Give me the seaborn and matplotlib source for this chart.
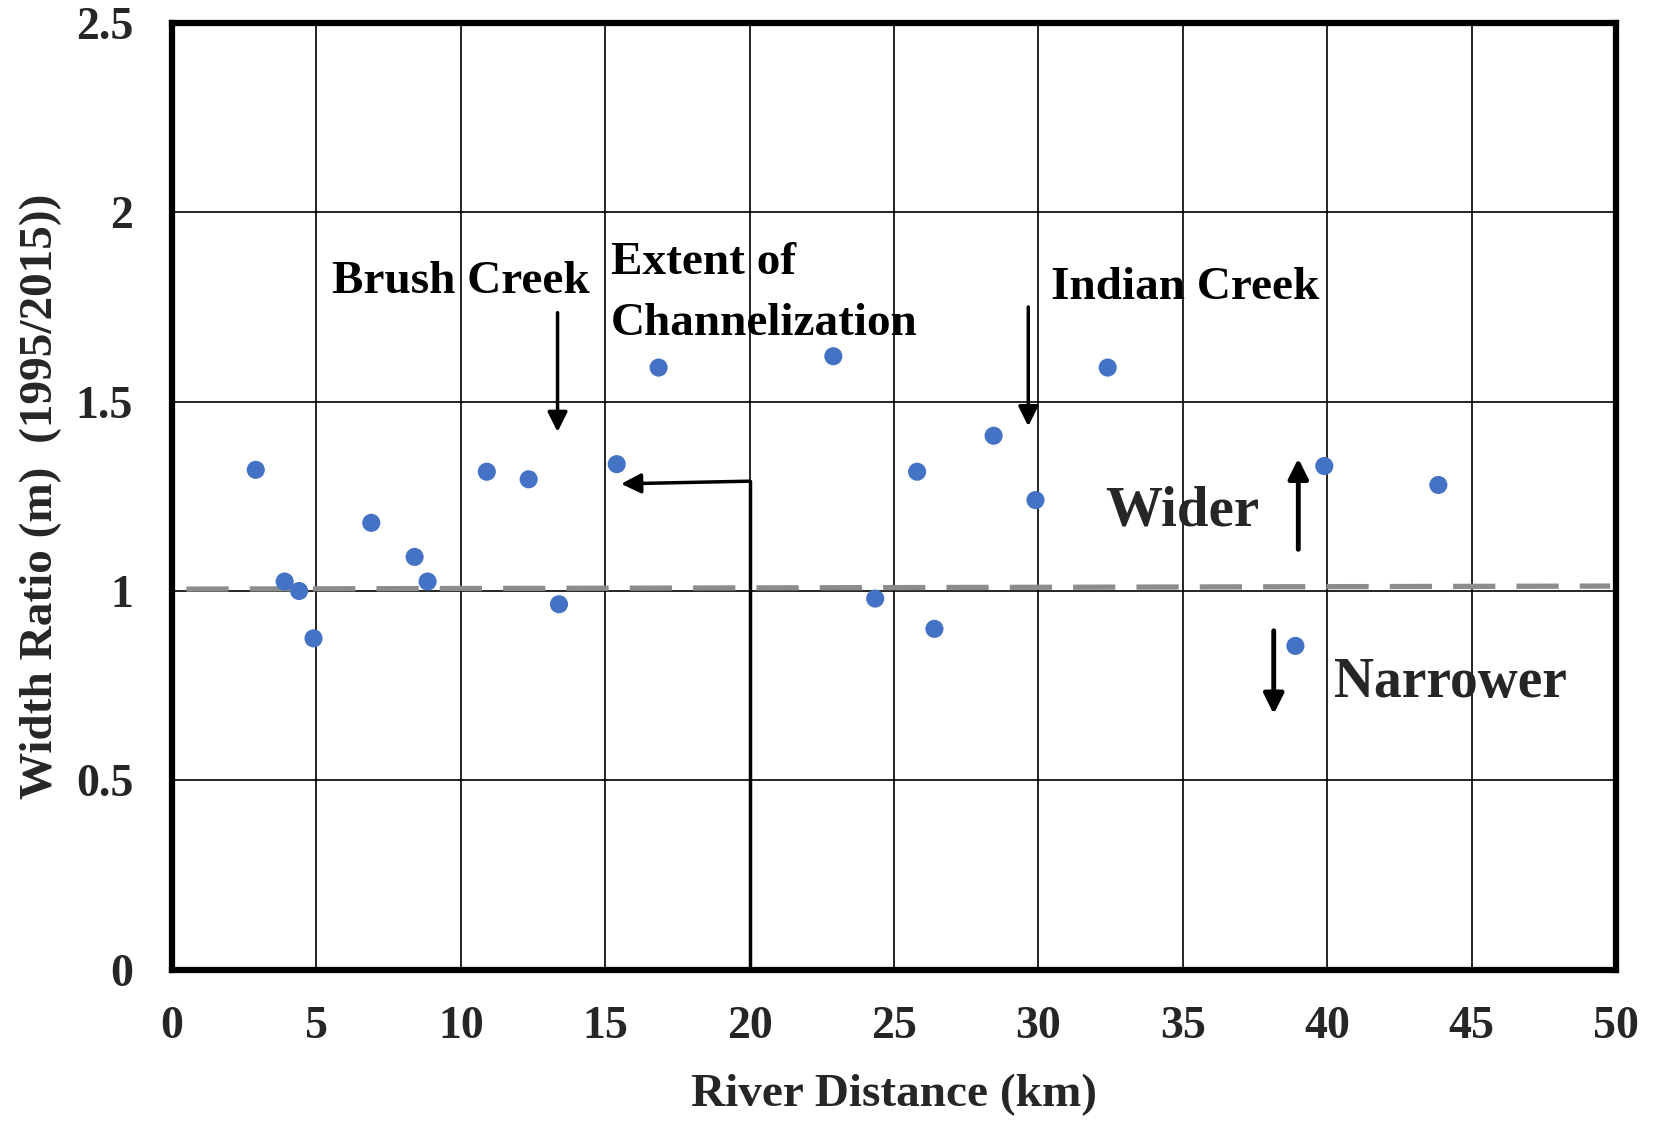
import matplotlib
matplotlib.use("Agg")
import matplotlib.pyplot as plt
import seaborn as sns
import pandas as pd

# River distance (km) and width ratio (1995/2015)
distance_km = [2.9, 3.9, 4.4, 4.9, 6.9, 8.4, 8.85, 10.9, 12.35, 13.4, 15.4, 16.85,
               22.9, 24.35, 25.8, 26.4, 28.45, 29.9, 32.4, 38.9, 39.9, 43.85]
width_ratio = [1.32, 1.025, 1.0, 0.875, 1.18, 1.09, 1.025, 1.315, 1.295, 0.965, 1.335, 1.59,
               1.62, 0.98, 1.315, 0.90, 1.41, 1.24, 1.59, 0.855, 1.33, 1.28]

# Reference (no change) trend line
trend_x = [0.5, 49.8]
trend_y = [1.005, 1.013]

x_ticks = [0, 5, 10, 15, 20, 25, 30, 35, 40, 45, 50]
y_ticks = [0, 0.5, 1, 1.5, 2, 2.5]
y_tick_labels = ["0", "0.5", "1", "1.5", "2", "2.5"]

df = pd.DataFrame({"distance": distance_km, "ratio": width_ratio})

sns.set_style("white")
plt.rcParams["font.family"] = ["Liberation Serif", "DejaVu Serif"]
plt.rcParams["font.weight"] = "bold"

fig = plt.figure(figsize=(16.54, 11.21), dpi=100)
ax = fig.add_axes([0.104, 0.135, 0.873, 0.8445])

ax.set_xlim(0, 50)
ax.set_ylim(0, 2.5)
ax.set_xticks(x_ticks)
ax.set_yticks(y_ticks)
ax.set_xticklabels([str(t) for t in x_ticks], fontsize=33, fontweight="bold")
ax.set_yticklabels(y_tick_labels, fontsize=33, fontweight="bold")
ax.tick_params(axis="x", length=0, pad=26)
ax.tick_params(axis="y", length=0, pad=28)
ax.grid(True, color="black", linewidth=1.2)
ax.set_axisbelow(True)
for s in ax.spines.values():
    s.set_visible(True)
    s.set_color("black")
    s.set_linewidth(4.5)

# dashed reference line
sns.lineplot(x=trend_x, y=trend_y, ax=ax, color="#8c8c8c", linewidth=3.8,
             dashes=False, linestyle=(0, (8, 4)), zorder=2)

sns.scatterplot(data=df, x="distance", y="ratio", ax=ax, color="#4472C4",
                s=170, edgecolor="none", zorder=5)

ax.set_xlabel("River Distance (km)", fontsize=34, fontweight="bold", labelpad=19)
ax.set_ylabel("Width Ratio (m)  (1995/2015))", fontsize=34, fontweight="bold", labelpad=10)

txt = dict(fontsize=34, fontweight="bold", color="black", va="center", ha="left")
ax.text(5.55, 1.816, "Brush Creek", **txt)
ax.text(15.2, 1.866, "Extent of", **txt)
ax.text(15.2, 1.706, "Channelization", **txt)
ax.text(30.45, 1.80, "Indian Creek", **txt)
ax.text(32.3, 1.209, "Wider", fontsize=41, fontweight="bold", va="center", ha="left")
ax.text(40.25, 0.756, "Narrower", fontsize=40, fontweight="bold", va="center", ha="left")

arrow = dict(arrowstyle="-|>", color="black", lw=2.5, mutation_scale=30, shrinkA=0, shrinkB=0)
# Brush Creek
ax.annotate("", xy=(13.35, 1.42), xytext=(13.35, 1.735), arrowprops=arrow)
# Indian Creek
ax.annotate("", xy=(29.65, 1.435), xytext=(29.65, 1.75), arrowprops=arrow)
# Wider / Narrower
ax.annotate("", xy=(39.0, 1.35), xytext=(39.0, 1.11), arrowprops=dict(arrow, lw=3.5))
ax.annotate("", xy=(38.15, 0.675), xytext=(38.15, 0.895), arrowprops=dict(arrow, lw=3.5))
# Extent of channelization bracket
ax.plot([20, 20], [0, 1.29], color="black", linewidth=2.5, zorder=4)
ax.annotate("", xy=(15.55, 1.283), xytext=(20.0, 1.29), arrowprops=arrow)

fig.savefig("out.png", dpi=100)
